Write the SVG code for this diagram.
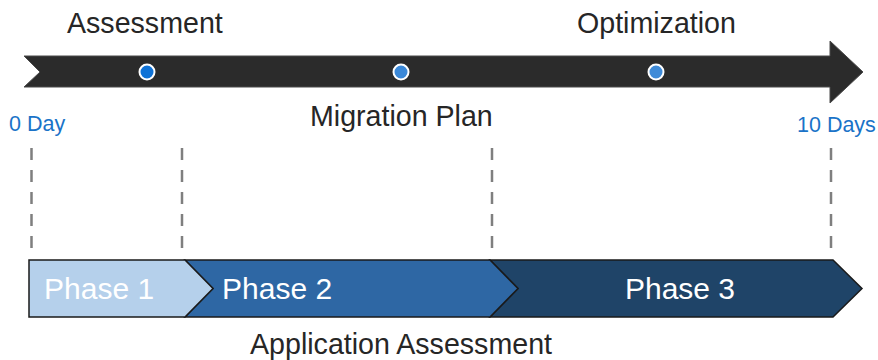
<svg xmlns="http://www.w3.org/2000/svg" width="878" height="360" viewBox="0 0 878 360">
<style>
.lbl{font-family:"Liberation Sans",Arial,sans-serif;font-size:28.6px;fill:#262626}
.day{font-family:"Liberation Sans",Arial,sans-serif;font-size:21.5px;fill:#1a73c8}
.ph{font-family:"Liberation Sans",Arial,sans-serif;font-size:30px;fill:#ffffff}
.dash{stroke:#7f7f7f;stroke-width:2.5;stroke-dasharray:12 10;fill:none}
.dot{stroke:#ffffff;stroke-width:2}
.seg{stroke:#1a1a1a;stroke-width:1.5;stroke-linejoin:miter}
</style>
<rect width="878" height="360" fill="#ffffff"/>
<g id="timeline">
<polygon points="24,56 830,56 830,41 863,72 830,103 830,87 24,87 40,72" fill="#2b2b2b" stroke="#4a4a4a" stroke-width="1"/>
</g>
<g id="milestone1"><circle class="dot" cx="147" cy="72" r="7.5" fill="#0f72d6"/></g>
<g id="milestone2"><circle class="dot" cx="401" cy="72" r="7.5" fill="#3a88d8"/></g>
<g id="milestone3"><circle class="dot" cx="656" cy="72" r="7.5" fill="#3f8bd8"/></g>
<g id="labels">
<text class="lbl" x="67" y="33">Assessment</text>
<text class="lbl" x="577" y="33">Optimization</text>
<text class="lbl" x="310" y="126">Migration Plan</text>
<text class="day" x="9" y="131">0 Day</text>
<text class="day" x="797" y="132">10 Days</text>
<text class="lbl" x="250" y="354">Application Assessment</text>
</g>
<g id="connectors">
<line class="dash" x1="31.5" y1="148" x2="31.5" y2="250"/>
<line class="dash" x1="182" y1="148" x2="182" y2="250"/>
<line class="dash" x1="492" y1="148" x2="492" y2="250"/>
<line class="dash" x1="831" y1="148" x2="831" y2="250"/>
</g>
<g id="phase3">
<polygon class="seg" points="490,260 833,260 862,288.5 833,317 490,317 518,288.5" fill="#1f4468"/>
<text class="ph" x="680" y="299" text-anchor="middle">Phase 3</text>
</g>
<g id="phase2">
<polygon class="seg" points="185,260 490,260 518,288.5 490,317 185,317 213,288.5" fill="#2e67a4"/>
<text class="ph" x="222" y="299">Phase 2</text>
</g>
<g id="phase1">
<polygon class="seg" points="29,260 185,260 213,288.5 185,317 29,317" fill="#b5d0eb"/>
<text class="ph" x="44" y="299">Phase 1</text>
</g>
</svg>
